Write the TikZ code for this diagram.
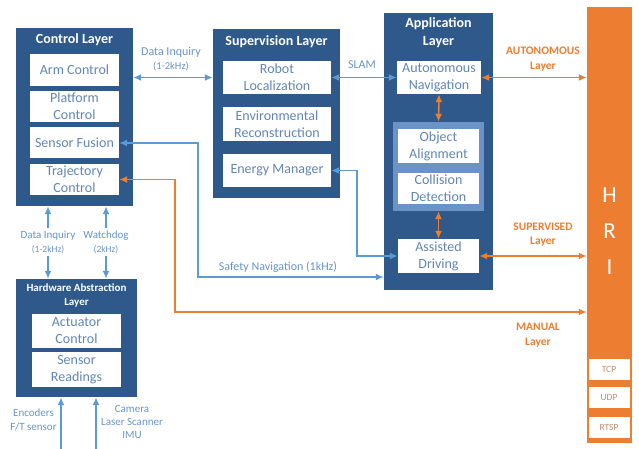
\documentclass[tikz,border=0pt]{standalone}
\usepackage{fontspec}
\setmainfont{Carlito}
\usepackage{xcolor}
\usetikzlibrary{positioning, arrows.meta}

\definecolor{layerblue}{RGB}{46,89,138}
\definecolor{groupblue}{RGB}{108,147,200}
\definecolor{boxtext}{RGB}{98,134,180}
\definecolor{linkblue}{RGB}{91,155,213}
\definecolor{labelblue}{RGB}{105,148,198}
\definecolor{hriorange}{RGB}{237,125,49}
\definecolor{porttext}{RGB}{196,140,105}

\tikzset{
    layer/.style={rectangle, fill=layerblue, inner sep=0pt},
    title/.style={text=white, align=center, inner sep=0pt, font=\bfseries\fontsize{14}{18}\selectfont},
    module/.style={rectangle, fill=white, text=boxtext, align=center, inner sep=0pt, font=\fontsize{14}{17}\selectfont},
    link/.style={draw=linkblue, line width=1.6pt, {Latex[length=8pt,width=7pt]}-{Latex[length=8pt,width=7pt]}},
    uplink/.style={draw=linkblue, line width=1.6pt, -{Latex[length=8pt,width=7pt]}},
    hrilink/.style={draw=hriorange, line width=1.6pt, {Latex[length=8pt,width=7pt]}-{Latex[length=8pt,width=7pt]}},
    linklabel/.style={text=labelblue, align=center, inner sep=2pt, font=\fontsize{12}{14}\selectfont},
    modelabel/.style={text=hriorange, align=center, inner sep=0pt, font=\bfseries\fontsize{11.5}{14.5}\selectfont},
    port/.style={rectangle, fill=white, text=porttext, inner sep=0pt, minimum width=41pt, minimum height=21pt, font=\fontsize{9.5}{11}\selectfont}
}

\begin{document}
\begin{tikzpicture}[x=1pt, y=-1pt]
    \useasboundingbox (0,0) rectangle (639,449);

    \node[layer, minimum width=117pt, minimum height=178pt] (ctrl) at (74.5, 117) {};
    \node[title] (ctrlt) at (74.5, 40) {Control Layer};
    \node[module, minimum width=89pt, minimum height=32pt] (arm) at (74.5, 70) {Arm Control};
    \node[module, minimum width=89pt, minimum height=31pt] (plat) at (74.5, 106.5) {Platform\\Control};
    \node[module, minimum width=89pt, minimum height=31pt] (fusion) at (74.5, 143) {Sensor Fusion};
    \node[module, minimum width=89pt, minimum height=31pt] (traj) at (74.5, 179.5) {Trajectory\\Control};

    \node[layer, minimum width=127pt, minimum height=169pt] (sup) at (276.5, 113.5) {};
    \node[title] (supt) at (276.5, 42) {Supervision Layer};
    \node[module, minimum width=108pt, minimum height=33pt] (robot) at (277, 77.5) {Robot\\Localization};
    \node[module, minimum width=108pt, minimum height=34pt] (env) at (277, 124) {Environmental\\Reconstruction};
    \node[module, minimum width=108pt, minimum height=33pt] (energy) at (277, 170.5) {Energy Manager};

    \node[layer, minimum width=109pt, minimum height=277pt] (app) at (438.5, 151.5) {};
    \node[title] (appt) at (438.5, 33) {Application\\Layer};
    \node[module, minimum width=84pt, minimum height=33pt] (auton) at (439, 77.5) {Autonomous\\Navigation};
    \node[rectangle, fill=groupblue, minimum width=91pt, minimum height=89pt] (group) at (438.5, 166.5) {};
    \node[module, minimum width=81pt, minimum height=34pt] (align) at (438.5, 146) {Object\\Alignment};
    \node[module, minimum width=81pt, minimum height=31pt] (coll) at (438.5, 188.5) {Collision\\Detection};
    \node[module, minimum width=81pt, minimum height=34pt] (assist) at (438.5, 256) {Assisted\\Driving};

    \node[layer, minimum width=121pt, minimum height=118pt] (hal) at (76.5, 338) {};
    \node[title, font=\bfseries\fontsize{11}{14}\selectfont] (halt) at (76.5, 295) {Hardware Abstraction\\Layer};
    \node[module, minimum width=89pt, minimum height=34pt] (act) at (76.5, 331) {Actuator\\Control};
    \node[module, minimum width=89pt, minimum height=35pt] (read) at (76.5, 369.5) {Sensor\\Readings};

    \node[rectangle, fill=hriorange, minimum width=45pt, minimum height=436pt] (hri) at (609.5, 225) {};
    \node[text=white, align=center, font=\fontsize{23}{36}\selectfont] (hrit) at (609.5, 231) {H\\R\\I};
    \node[port] (tcp) at (609, 369.5) {TCP};
    \node[port] (udp) at (609, 397.5) {UDP};
    \node[port] (rtsp) at (609, 427) {RTSP};

    \coordinate (safe) at (198, 277);
    \coordinate (power) at (357, 256);
    \coordinate (manual) at (175, 312);
    \coordinate (enc) at (61, 449);
    \coordinate (cam) at (96, 449);

    \draw[link] (ctrl.east |- robot) -- (sup.west |- robot);
    \draw[link] (robot.east) -- (auton.west);
    \draw[link] (fusion.east) -| (safe) -- (app.west |- safe);
    \draw[link] (energy.east) -| (power) -- (assist.west);
    \draw[hrilink] (traj.east) -| (manual) -- (hri.west |- manual);
    \draw[hrilink] (auton.east) -- (hri.west |- auton.east);
    \draw[hrilink] (assist.east) -- (hri.west |- assist.east);
    \draw[hrilink] (auton.south) -- (group.north);
    \draw[hrilink] (group.south) -- (assist.north);

    \node[linklabel] (dq1) at (171, 59) {Data Inquiry\\{\fontsize{10.5}{14}\selectfont(1-2kHz)}};
    \node[linklabel] (slam) at (362, 65) {SLAM};
    \node[linklabel] (safet) at (278, 267) {Safety Navigation (1kHz)};

    \node[linklabel, font=\fontsize{11}{14}\selectfont] (dq2) at (48, 242) {Data Inquiry\\{\fontsize{9.5}{14}\selectfont(1-2kHz)}};
    \node[linklabel, font=\fontsize{11}{14}\selectfont] (wd) at (106, 242) {Watchdog\\{\fontsize{9.5}{14}\selectfont(2kHz)}};
    \draw[uplink] (dq2) -- (ctrl.south -| dq2);
    \draw[uplink] (dq2) -- (hal.north -| dq2);
    \draw[uplink] (wd) -- (ctrl.south -| wd);
    \draw[uplink] (wd) -- (hal.north -| wd);

    \draw[uplink] (enc) -- (hal.south -| enc);
    \draw[uplink] (cam) -- (hal.south -| cam);
    \node[linklabel, font=\fontsize{11}{14}\selectfont] (enct) at (33.5, 420) {Encoders\\F/T sensor};
    \node[linklabel, font=\fontsize{11}{13}\selectfont] (camt) at (132, 422) {Camera\\Laser Scanner\\IMU};

    \node[modelabel] (autot) at (543, 59) {AUTONOMOUS\\Layer};
    \node[modelabel] (supvt) at (543, 234.5) {SUPERVISED\\Layer};
    \node[modelabel] (mant) at (538, 335) {MANUAL\\Layer};
\end{tikzpicture}
\end{document}
